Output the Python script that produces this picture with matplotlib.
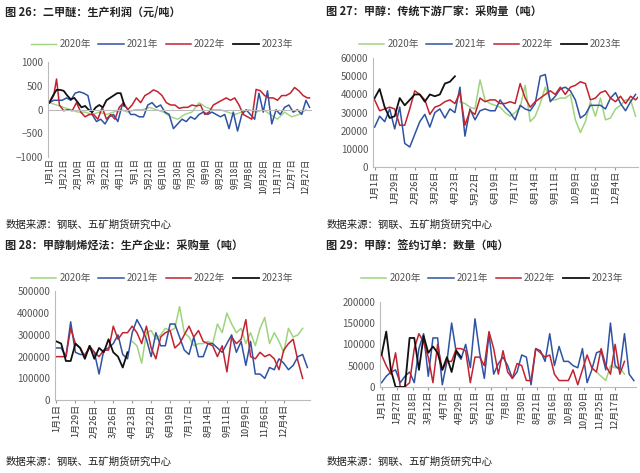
import numpy as np
import matplotlib
matplotlib.use("Agg")
import matplotlib.pyplot as plt

plt.rcParams["font.family"] = ["Noto Sans CJK SC", "DejaVu Sans"]

# 图26 二甲醚生产利润 (day index -> value)
p26_days_red = [0,6,10,14,20,26,32,38,44,50,56,62,68,74,80,86,92,98,104,110,116,122,128,134,140,146,152,158,164,170,176,182,188,194,200,206,212,218,224,230,236,242,248,254,260,266,272,278,284,290,296,302,308,314,320,326,332,338,344,350,356,362,365]
p26_red = [150,300,650,100,-20,0,-20,150,-50,-150,-100,-100,-200,50,-200,-100,-200,50,150,0,100,250,150,300,350,420,380,300,150,100,100,30,50,50,100,80,100,-100,-50,100,150,200,250,200,250,100,-100,-150,-200,430,400,300,250,250,200,300,300,350,470,400,300,250,250]
p26_days_blue = list(range(0, 366, 6)) + [365]
p26_blue = [150,200,200,200,250,200,350,380,350,300,-100,-250,-200,-300,-150,-100,-250,100,50,-100,-100,-150,-150,100,150,50,100,-50,-100,-400,-300,-200,-250,-150,-200,-100,-50,-100,-50,-100,-150,-100,-400,-50,-450,-100,0,-100,-200,350,-50,400,-300,0,-100,50,100,-50,0,-100,200,50]
p26_days_green = list(range(0, 361, 10))
p26_green = [150,100,50,0,-50,-50,-100,-50,-100,-50,0,-50,0,0,50,0,-50,-150,-200,-100,-50,150,50,0,0,-50,-100,-50,0,-50,0,-100,-200,-50,-150,-100,0]
p26_days_black = list(range(0, 106, 5))
p26_black = [150,300,420,420,400,300,220,250,150,50,80,0,-50,50,100,50,200,250,300,350,350,100]
p26_ticks = ["1月1日","1月21日","2月10日","3月2日","3月22日","4月11日","5月1日","5月21日","6月10日","6月30日","7月20日","8月9日","8月29日","9月18日","10月8日","10月28日","11月17日","12月7日","12月27日"]

# 图27 传统下游厂家采购量 (weekly)
p27_blue = [22000,28000,25000,32000,21000,33000,13000,11000,18000,25000,29000,22000,30000,32000,27000,32000,30000,44000,17000,32000,26000,31000,32000,31000,31000,37000,33000,30000,26000,34000,32000,31000,35000,50000,51000,36000,39000,43000,44000,42000,37000,27000,29000,34000,34000,34000,32000,38000,41000,35000,31000,36000,40000]
p27_red = [37000,31000,32000,33000,32000,23000,23000,32000,42000,40000,37000,29000,33000,34000,36000,37000,35000,41000,23000,31000,29000,38000,36000,37000,37000,35000,35000,36000,35000,46000,38000,33000,36000,38000,40000,42000,40000,44000,40000,44000,45000,47000,46000,37000,38000,41000,42000,38000,36000,39000,35000,39000,37000,40000]
p27_green_start = 17
p27_green = [36000,35000,33000,32000,48000,37000,35000,34000,33000,30000,28000,30000,33000,45000,25000,28000,35000,44000,37000,37000,38000,38000,40000,26000,19000,25000,36000,28000,38000,26000,27000,32000,34000,37000,37000,28000]
p27_black = [38000,43000,33000,27000,28000,38000,34000,37000,40000,40000,36000,40000,39000,40000,46000,47000,50000]
p27_ticks = ["1月1日","1月29日","2月26日","3月26日","4月23日","5月22日","6月19日","7月17日","8月14日","9月11日","10月9日","11月6日","12月4日"]

# 图28 甲醇制烯烃法生产企业采购量 (weekly)
p28_blue = [240000,240000,200000,360000,220000,210000,210000,240000,220000,120000,230000,240000,260000,300000,210000,190000,310000,370000,330000,280000,200000,310000,250000,250000,350000,350000,290000,230000,210000,290000,200000,200000,260000,260000,240000,220000,260000,300000,220000,270000,160000,270000,120000,120000,100000,150000,140000,190000,170000,140000,160000,200000,210000,150000]
p28_red = [200000,200000,200000,330000,260000,240000,200000,250000,220000,200000,230000,230000,340000,280000,310000,310000,340000,310000,260000,340000,240000,190000,290000,310000,320000,240000,260000,300000,340000,290000,320000,270000,260000,250000,200000,250000,130000,290000,260000,280000,370000,200000,190000,220000,200000,210000,190000,140000,230000,260000,280000,180000,100000]
p28_green_start = 16
p28_green = [270000,250000,170000,310000,320000,280000,300000,330000,320000,330000,430000,310000,290000,250000,260000,260000,270000,260000,350000,310000,400000,350000,310000,330000,260000,310000,250000,330000,380000,260000,310000,270000,220000,330000,290000,300000,330000]
p28_black = [270000,260000,180000,180000,260000,240000,190000,250000,190000,240000,220000,280000,220000,200000,150000,220000]

# 图29 签约订单数量 (weekly)
p29_blue = [10000,25000,35000,40000,10000,25000,35000,10000,90000,125000,25000,115000,115000,5000,60000,150000,80000,65000,100000,45000,160000,80000,20000,125000,30000,55000,70000,50000,20000,35000,75000,70000,5000,90000,85000,60000,125000,50000,95000,60000,60000,50000,45000,90000,10000,40000,80000,85000,40000,150000,50000,40000,125000,30000,15000]
p29_red = [75000,50000,30000,80000,0,0,10000,90000,125000,105000,70000,10000,100000,40000,60000,60000,90000,90000,85000,10000,70000,70000,50000,130000,90000,30000,85000,35000,20000,55000,50000,15000,15000,90000,80000,70000,75000,30000,15000,15000,15000,40000,5000,40000,75000,45000,35000,90000,50000,30000,100000,30000,60000]
p29_green_start = 46
p29_green = [35000,25000,15000,50000,45000,45000,30000]
p29_black = [75000,130000,40000,0,0,0,115000,115000,40000,120000,80000,95000,80000,40000,70000,35000,85000,70000]
p29_ticks = ["1月1日","1月27日","2月18日","3月12日","4月7日","4月29日","5月21日","6月12日","7月8日","7月30日","8月21日","9月16日","10月8日","10月30日","11月25日","12月17日"]

C_GREEN = "#9fd47f"
C_BLUE = "#2e53a2"
C_RED = "#c1232f"
C_BLACK = "#111111"
YEARS = ["2020年", "2021年", "2022年", "2023年"]

fig = plt.figure(figsize=(6.4, 4.73), dpi=100)


def style_axes(ax, ylim, yticks, xticks, xlabels, xlim, xfs=6.5):
    ax.set_ylim(*ylim)
    ax.set_yticks(yticks)
    ax.set_xlim(*xlim)
    ax.set_xticks(xticks)
    ax.set_xticklabels(xlabels, rotation=90, fontsize=xfs, color="#333333")
    ax.tick_params(axis="y", labelsize=7, colors="#555555", length=0)
    ax.tick_params(axis="x", length=2, color="#999999", pad=1)
    for s in ["top", "right"]:
        ax.spines[s].set_visible(False)
    for s in ["left", "bottom"]:
        ax.spines[s].set_color("#bbbbbb")


def legend(ax, xc, ypx):
    h, l = ax.get_legend_handles_labels()
    fig.legend(h, l, loc="center", bbox_to_anchor=(xc / 640, 1 - ypx / 473),
               ncol=4, frameon=False, fontsize=7, handlelength=2.6, columnspacing=0.8, handletextpad=0.3,
               labelcolor="#555555")


# 图26
ax1 = fig.add_axes([0.075, 0.668, 0.412, 0.2])
ax1.plot(p26_days_green, p26_green, color=C_GREEN, lw=1, label=YEARS[0])
ax1.plot(p26_days_blue, p26_blue, color=C_BLUE, lw=1.1, label=YEARS[1])
ax1.plot(p26_days_red, p26_red, color=C_RED, lw=1.1, label=YEARS[2])
ax1.plot(p26_days_black, p26_black, color=C_BLACK, lw=1.3, label=YEARS[3])
ax1.axhline(0, color="#bbbbbb", lw=0.8)
style_axes(ax1, (-1000, 1000), [-1000, -500, 0, 500, 1000], np.arange(0, 361, 20), p26_ticks, (-2, 368), xfs=6)
ax1.spines["bottom"].set_visible(False)
ax1.tick_params(axis="x", length=0)
legend(ax1, 162, 44)

# 图27
ax2 = fig.add_axes([0.583, 0.647, 0.414, 0.23])
ax2.plot(np.arange(len(p27_green)) + p27_green_start, p27_green, color=C_GREEN, lw=1.1, label=YEARS[0])
ax2.plot(np.arange(len(p27_blue)), p27_blue, color=C_BLUE, lw=1.1, label=YEARS[1])
ax2.plot(np.arange(len(p27_red)), p27_red, color=C_RED, lw=1.1, label=YEARS[2])
ax2.plot(np.arange(len(p27_black)), p27_black, color=C_BLACK, lw=1.3, label=YEARS[3])
style_axes(ax2, (0, 60000), np.arange(0, 60001, 10000), np.arange(0, 49, 4), p27_ticks, (-0.3, 52.5))
legend(ax2, 490, 44)

# 图28
ax3 = fig.add_axes([0.086, 0.154, 0.398, 0.23])
ax3.plot(np.arange(len(p28_green)) + p28_green_start, p28_green, color=C_GREEN, lw=1.1, label=YEARS[0])
ax3.plot(np.arange(len(p28_blue)), p28_blue, color=C_BLUE, lw=1.1, label=YEARS[1])
ax3.plot(np.arange(len(p28_red)), p28_red, color=C_RED, lw=1.1, label=YEARS[2])
ax3.plot(np.arange(len(p28_black)), p28_black, color=C_BLACK, lw=1.3, label=YEARS[3])
style_axes(ax3, (0, 500000), np.arange(0, 500001, 100000), np.arange(0, 49, 4), p27_ticks, (-0.3, 53.5))
legend(ax3, 162, 278)

# 图29
ax4 = fig.add_axes([0.594, 0.182, 0.40, 0.18])
ax4.plot(np.arange(len(p29_green)) + p29_green_start, p29_green, color=C_GREEN, lw=1.1, label=YEARS[0])
ax4.plot(np.arange(len(p29_blue)), p29_blue, color=C_BLUE, lw=1.1, label=YEARS[1])
ax4.plot(np.arange(len(p29_red)), p29_red, color=C_RED, lw=1.1, label=YEARS[2])
ax4.plot(np.arange(len(p29_black)), p29_black, color=C_BLACK, lw=1.3, label=YEARS[3])
style_axes(ax4, (0, 200000), np.arange(0, 200001, 50000), np.linspace(0, 50, 16), p29_ticks, (-0.3, 54.5))
legend(ax4, 492, 278)

titles = [(0.008, 12, "图 26：二甲醚：生产利润（元/吨）"),
          (0.51, 12, "图 27：甲醇：传统下游厂家：采购量（吨）"),
          (0.008, 246, "图 28：甲醇制烯烃法：生产企业：采购量（吨）"),
          (0.51, 246, "图 29：甲醇：签约订单：数量（吨）")]
for x, ypx, t in titles:
    fig.text(x, 1 - ypx / 473, t, fontsize=8, fontweight="bold", va="center", color="#222222")

for x, ypx in [(0.008, 225), (0.51, 225), (0.008, 462), (0.51, 462)]:
    fig.text(x, 1 - ypx / 473, "数据来源：钢联、五矿期货研究中心", fontsize=7.5, va="center", color="#222222")

fig.savefig("out.png", dpi=100)
